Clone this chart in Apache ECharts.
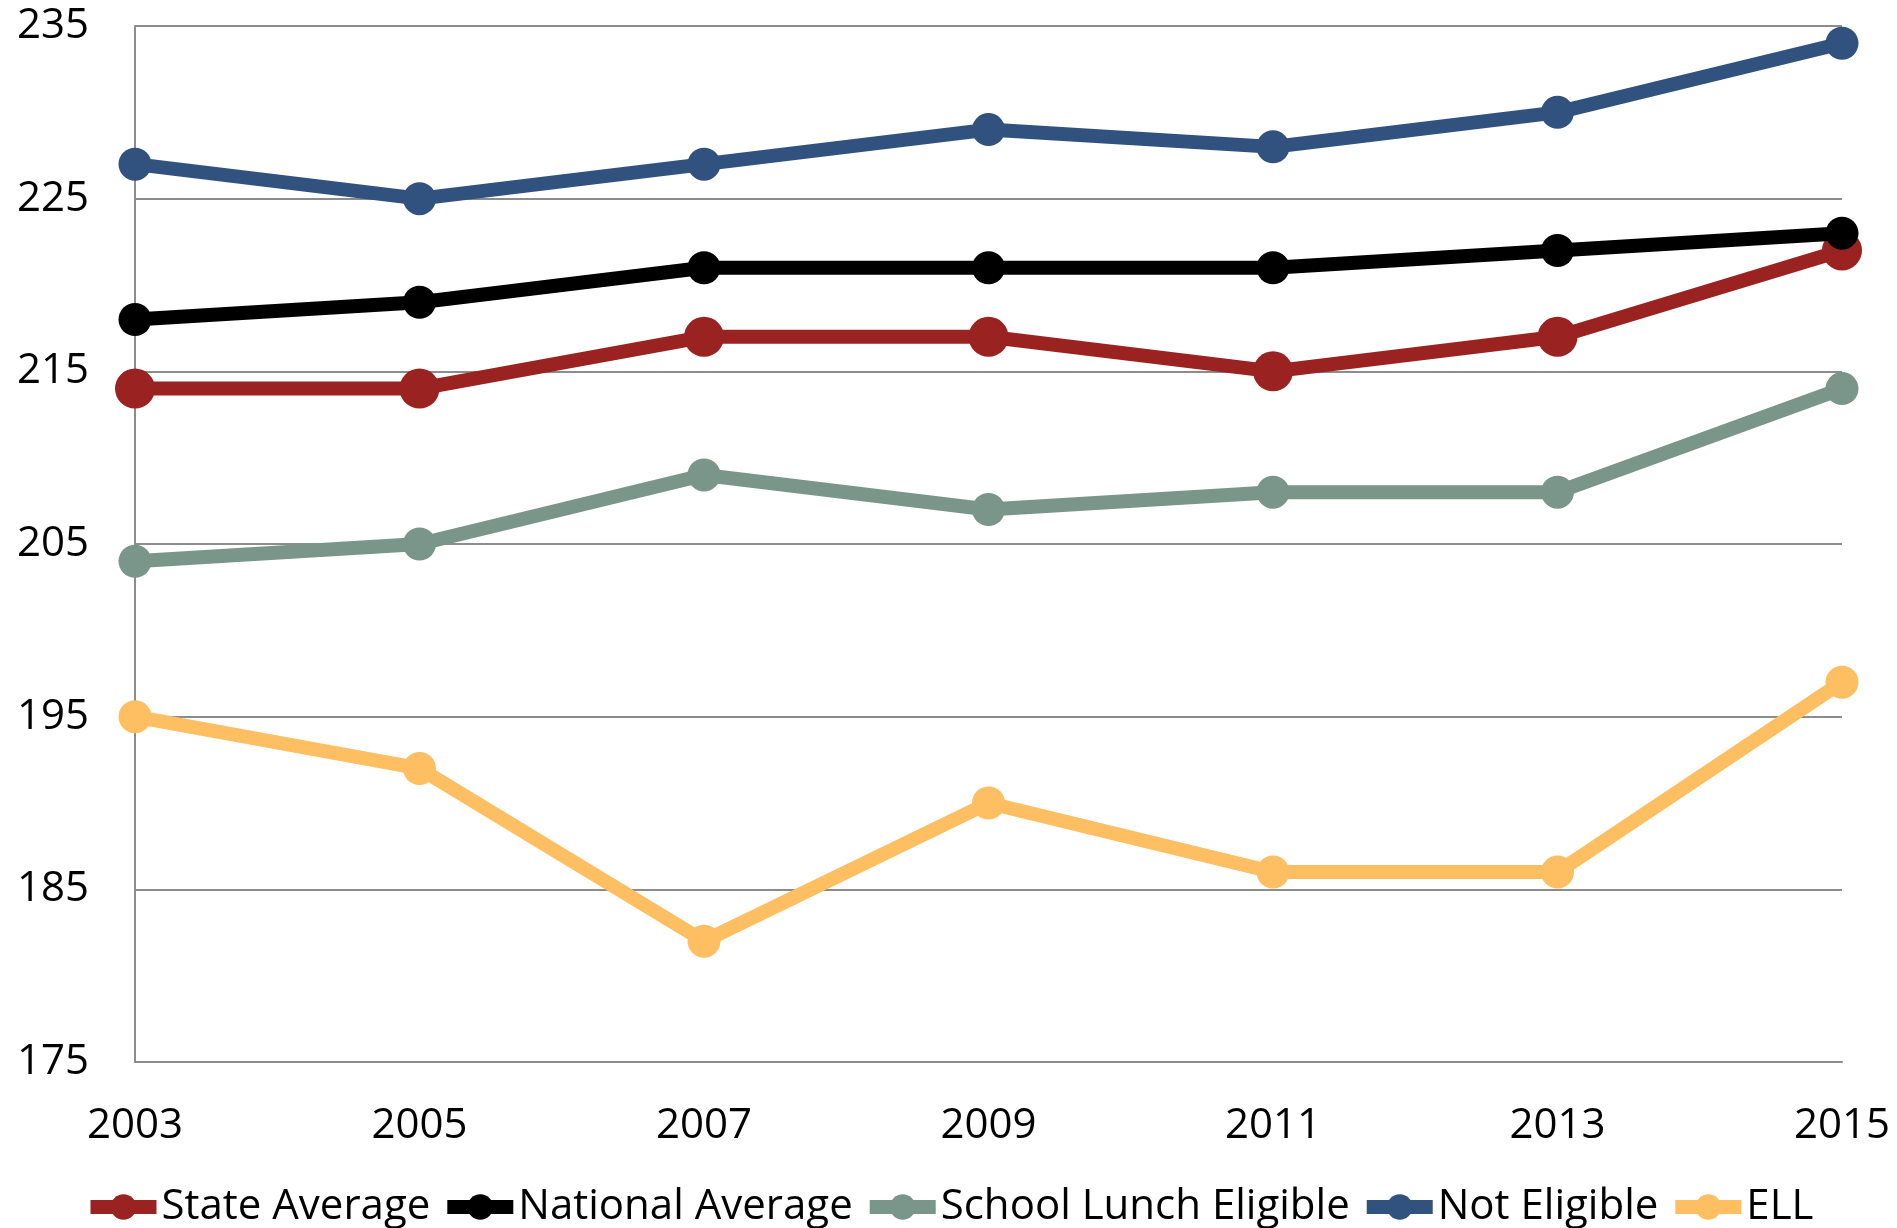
<!DOCTYPE html>
<html><head><meta charset="utf-8">
<script src="https://cdn.jsdelivr.net/npm/echarts@6/dist/echarts.min.js"></script>
<style>html,body{margin:0;padding:0;background:#fff}#c{width:1897px;height:1228px}</style>
</head><body><div id="c"></div>
<script>
const years = ['2003','2005','2007','2009','2011','2013','2015'];
const stateAverage = [214,214,217,217,215,217,222];
const nationalAverage = [218,219,221,221,221,222,223];
const schoolLunch = [204,205,209,207,208,208,214];
const notEligible = [227,225,227,229,228,230,234];
const ell = [195,192,182,190,186,186,197];
const yTicks = [175,185,195,205,215,225,235];

const FONT = 'Open Sans';
const chart = echarts.init(document.getElementById('c'));
function mk(name, data, color, size, z){
  return {name, type:'line', data, z,
    symbol:'circle', symbolSize:size,
    lineStyle:{color, width:14}, itemStyle:{color},
    emphasis:{disabled:true}, animation:false};
}
const series = [
  mk('State Average', stateAverage, '#9A2322', 40, 3),
  mk('National Average', nationalAverage, '#000000', 33, 4),
  mk('School Lunch Eligible', schoolLunch, '#7A958A', 33, 5),
  mk('Not Eligible', notEligible, '#31527F', 33, 6),
  mk('ELL', ell, '#FEBE62', 33, 7)
];
series[0].markLine = {silent:true, symbol:'none', z:1, label:{show:false},
  lineStyle:{color:'#8c8c8c', width:2, type:'solid'},
  data: yTicks.slice(1).map(v=>({yAxis:v}))};
chart.setOption({
  animation:false,
  backgroundColor:'#fff',
  grid:{left:135, right:55, top:26, bottom:166, containLabel:false},
  legend:{bottom:-5, left:'center', itemWidth:66, itemHeight:32, itemGap:10,
    lineStyle:{width:14},
    textStyle:{fontFamily:FONT, fontSize:42, color:'#000'},
    data: series.map(s=>s.name)},
  xAxis:{type:'category', data:years, boundaryGap:false,
    axisLine:{lineStyle:{color:'#8c8c8c', width:2}},
    axisTick:{show:false},
    axisLabel:{fontFamily:FONT, fontSize:42, color:'#000', margin:43}},
  yAxis:{type:'value', min:175, max:235, interval:5,
    axisLine:{show:true, lineStyle:{color:'#8c8c8c', width:2}},
    axisTick:{show:false},
    splitLine:{show:false},
    axisLabel:{fontFamily:FONT, fontSize:42, color:'#000', margin:46,
      formatter: v => yTicks.indexOf(v) >= 0 ? String(v) : ''}},
  series
});
</script></body></html>
